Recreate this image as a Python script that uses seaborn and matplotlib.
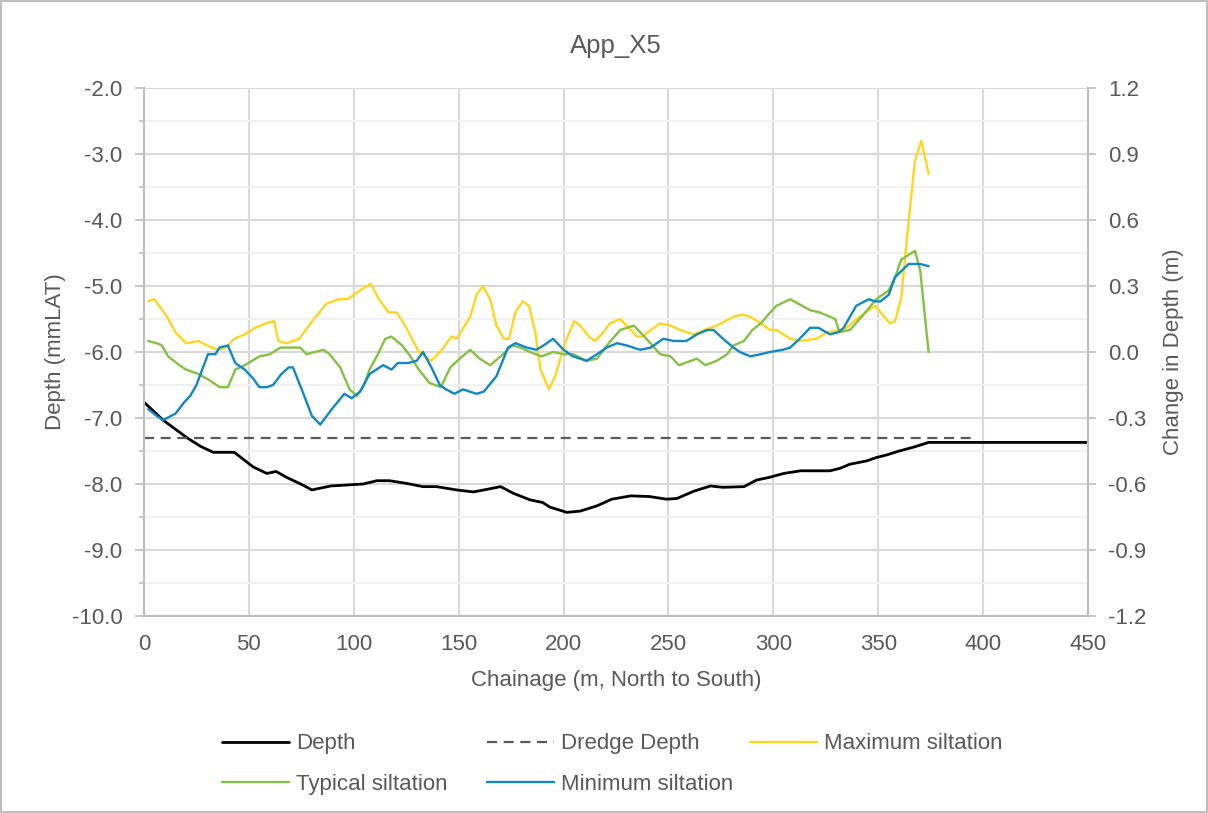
import numpy as np
import matplotlib
matplotlib.use("Agg")
import matplotlib.pyplot as plt
import seaborn as sns
from matplotlib.ticker import MultipleLocator, FormatStrFormatter

# Depth profile (mmLAT)
depth_x = [0, 9, 21, 27, 33, 43, 52, 58.5, 63, 68, 76, 80, 89, 104.5, 111, 117, 125, 133,
           139.5, 149, 157, 162, 170, 176, 184, 190, 193.5, 201.5, 208, 216, 223, 232, 241,
           249, 254, 262, 270, 276, 286, 292, 298, 305, 313, 327, 332, 336.5, 344.5, 349,
           354, 360, 367, 374, 450]
depth_y = [-6.76, -7.03, -7.31, -7.43, -7.52, -7.52, -7.74, -7.84, -7.81, -7.90, -8.02, -8.09,
           -8.03, -8.00, -7.95, -7.95, -7.99, -8.04, -8.04, -8.09, -8.12, -8.09, -8.04, -8.14,
           -8.24, -8.28, -8.35, -8.43, -8.41, -8.33, -8.23, -8.18, -8.19, -8.23, -8.22, -8.11,
           -8.03, -8.05, -8.04, -7.94, -7.90, -7.84, -7.80, -7.80, -7.76, -7.70, -7.65, -7.60,
           -7.56, -7.50, -7.44, -7.37, -7.37]

dredge_x = [0, 397]
dredge_y = [-7.3, -7.3]

# change in depth (m), right axis
max_x = [2, 5, 11, 15, 20, 26, 30, 35, 39, 43, 48, 53, 58, 62, 64, 68, 74, 81, 87, 93, 97, 103,
         108, 112, 116.5, 120.5, 125, 131, 137, 142, 146.5, 149, 155.5, 158.5, 161.5, 165, 168,
         171.5, 174, 177, 180.5, 183.5, 186.5, 189, 193, 196, 199, 201.5, 205, 208, 212, 215,
         219, 222, 227, 230, 235, 237.5, 241.5, 246, 251, 255.5, 262, 267, 273, 281, 285, 289,
         294, 298.5, 301.5, 308, 312.5, 320.5, 325.5, 333.5, 341, 348.5, 355.5, 358, 361,
         364.5, 367.5, 370.5, 374]
max_y = [0.23, 0.24, 0.16, 0.09, 0.04, 0.05, 0.03, 0.01, 0.02, 0.06, 0.08, 0.11, 0.13, 0.14,
         0.05, 0.04, 0.06, 0.15, 0.22, 0.24, 0.24, 0.28, 0.31, 0.24, 0.18, 0.18, 0.11, 0.00,
         -0.04, 0.01, 0.07, 0.06, 0.16, 0.26, 0.30, 0.24, 0.12, 0.06, 0.06, 0.18, 0.23, 0.21,
         0.09, -0.08, -0.17, -0.11, -0.01, 0.06, 0.14, 0.12, 0.07, 0.05, 0.09, 0.13, 0.15,
         0.12, 0.07, 0.07, 0.10, 0.13, 0.12, 0.10, 0.08, 0.10, 0.12, 0.16, 0.17, 0.16, 0.13,
         0.10, 0.10, 0.06, 0.05, 0.06, 0.09, 0.10, 0.16, 0.21, 0.13, 0.14, 0.25, 0.60, 0.87,
         0.96, 0.81]

typ_x = [2, 6, 8.5, 11.5, 15.5, 20, 26, 31.5, 36, 40, 43.5, 48, 55, 60, 65, 71, 74.5, 77.5,
         85.5, 88.5, 93.5, 98, 101.5, 104.5, 107.5, 111.5, 115, 118, 123, 127, 131, 136, 141.5,
         146, 150.5, 155.5, 160, 165, 170, 175.5, 179.5, 184, 189.5, 195, 200, 204.5, 211, 216,
         221.5, 227, 233.5, 239.5, 246, 251, 255, 263.5, 267.5, 273, 278, 281, 286, 290, 294,
         298.5, 301.5, 308, 317.5, 322, 329.5, 331.5, 336.5, 343, 349, 355, 358, 361, 367.5,
         370, 374]
typ_y = [0.05, 0.04, 0.03, -0.02, -0.05, -0.08, -0.10, -0.13, -0.16, -0.16, -0.08, -0.06,
         -0.02, -0.01, 0.02, 0.02, 0.02, -0.01, 0.01, -0.01, -0.07, -0.17, -0.20, -0.16, -0.08,
         -0.01, 0.06, 0.07, 0.03, -0.02, -0.08, -0.14, -0.16, -0.07, -0.03, 0.01, -0.03, -0.06,
         -0.02, 0.03, 0.02, 0.00, -0.02, 0.00, -0.01, -0.01, -0.04, -0.03, 0.04, 0.10, 0.12,
         0.06, -0.01, -0.02, -0.06, -0.03, -0.06, -0.04, -0.01, 0.03, 0.05, 0.10, 0.13, 0.18,
         0.21, 0.24, 0.19, 0.18, 0.15, 0.09, 0.10, 0.17, 0.24, 0.28, 0.34, 0.42, 0.46, 0.37,
         0.00]

min_x = [2, 6, 9, 15, 19, 22, 25, 30.5, 34, 36, 40, 43.5, 48, 52, 55, 58.5, 61.5, 65.5, 69, 71,
         76, 80, 84, 89.5, 95.5, 99, 103, 107.5, 114, 118, 121, 126, 130, 133, 137, 141, 144,
         148, 152, 158.5, 162, 168, 173.5, 177, 182.5, 187, 190.5, 195, 200, 204.5, 211, 216,
         220.5, 225.5, 230, 236.5, 241.5, 247.5, 252.5, 258.5, 263.5, 268.5, 271.5, 276, 281,
         284, 289, 294, 298.5, 304.5, 308, 312.5, 317.5, 321.5, 327, 331, 333.5, 339.5, 345.5,
         348.5, 351, 355, 358, 364.5, 370, 374]
min_y = [-0.26, -0.29, -0.31, -0.28, -0.23, -0.20, -0.15, -0.01, -0.01, 0.02, 0.03, -0.05,
         -0.08, -0.12, -0.16, -0.16, -0.15, -0.10, -0.07, -0.07, -0.19, -0.29, -0.33, -0.26,
         -0.19, -0.21, -0.18, -0.10, -0.06, -0.08, -0.05, -0.05, -0.04, 0.00, -0.07, -0.15,
         -0.17, -0.19, -0.17, -0.19, -0.18, -0.11, 0.02, 0.04, 0.02, 0.01, 0.03, 0.06, 0.01,
         -0.02, -0.04, -0.01, 0.02, 0.04, 0.03, 0.01, 0.02, 0.06, 0.05, 0.05, 0.08, 0.10, 0.10,
         0.06, 0.02, 0.00, -0.02, -0.01, 0.00, 0.01, 0.02, 0.06, 0.11, 0.11, 0.08, 0.09, 0.11,
         0.21, 0.24, 0.23, 0.23, 0.26, 0.34, 0.40, 0.40, 0.39]

sns.set_style("white")
plt.rcParams['font.family'] = ['Liberation Sans', 'DejaVu Sans']
txt = "#595959"
grid_c = "#D9D9D9"
fs = 16

fig = plt.figure(figsize=(12.08, 8.13), dpi=100)
ax = fig.add_axes([0.1192, 0.2423, 0.7815, 0.6495])
ax2 = ax.twinx()

sns.lineplot(x=depth_x, y=depth_y, ax=ax, color="black", linewidth=2.0, label="Depth",
             estimator=None, sort=False, legend=False)
sns.lineplot(x=dredge_x, y=dredge_y, ax=ax, color="#595959", linewidth=1.6, label="Dredge Depth",
             estimator=None, legend=False)
ax.lines[-1].set_dashes((4.5, 3))

sns.lineplot(x=max_x, y=max_y, ax=ax2, color="#FFD61F", linewidth=1.7, label="Maximum siltation",
             estimator=None, sort=False, legend=False)
sns.lineplot(x=typ_x, y=typ_y, ax=ax2, color="#84C142", linewidth=1.7, label="Typical siltation",
             estimator=None, sort=False, legend=False)
sns.lineplot(x=min_x, y=min_y, ax=ax2, color="#1188C6", linewidth=1.7, label="Minimum siltation",
             estimator=None, sort=False, legend=False)

ax.set_xlim(0, 450)
ax.set_ylim(-10, -2)
ax2.set_ylim(-1.2, 1.2)
ax.xaxis.set_major_locator(MultipleLocator(50))
ax.yaxis.set_major_locator(MultipleLocator(1))
ax.yaxis.set_minor_locator(MultipleLocator(0.5))
ax.yaxis.set_major_formatter(FormatStrFormatter("%.1f"))
ax2.yaxis.set_major_locator(MultipleLocator(0.3))
ax2.yaxis.set_major_formatter(FormatStrFormatter("%.1f"))

ax.grid(True, which="major", color=grid_c, linewidth=1.5)
ax.grid(True, which="minor", axis="y", color="#F0F0F0", linewidth=1.5)
ax.set_axisbelow(True)

for a in (ax, ax2):
    for s in a.spines.values():
        s.set_color("#BFBFBF")
        s.set_linewidth(1.5)
    a.spines["top"].set_visible(False)

ax.tick_params(axis="y", which="major", length=6.5, width=1.2, color="#BFBFBF", labelsize=fs,
               labelcolor=txt, pad=9)
ax.tick_params(axis="y", which="minor", length=3.5, width=1.2, color="#BFBFBF", left=True)
ax.tick_params(axis="x", length=0, labelsize=fs, labelcolor=txt, pad=13)
ax2.tick_params(axis="y", which="major", length=5.5, width=1.2, color="#BFBFBF", labelsize=fs,
                labelcolor=txt, pad=9)

ax.set_xlabel("Chainage (m, North to South)", fontsize=fs, color=txt, labelpad=11)
ax.set_ylabel("Depth (mmLAT)", fontsize=fs, color=txt, labelpad=4)
ax2.set_ylabel("Change in Depth (m)", fontsize=fs, color=txt, labelpad=12)
ax.set_title("App_X5", fontsize=18.5, color=txt, pad=25)

h1, l1 = ax.get_legend_handles_labels()
h2, l2 = ax2.get_legend_handles_labels()
hd = dict(zip(l1 + l2, h1 + h2))
columns = [["Depth", "Typical siltation"], ["Dredge Depth", "Minimum siltation"],
           ["Maximum siltation"]]
col_x = [222 / 1208, 487 / 1208, 750 / 1208]
for names, cx in zip(columns, col_x):
    fig.legend([hd[k] for k in names], names, loc="upper left", bbox_to_anchor=(cx, 0.0978),
               frameon=False, fontsize=fs, handlelength=3.0, handletextpad=0.35,
               labelspacing=0.87, borderpad=0, borderaxespad=0, labelcolor=txt)

fig.add_artist(plt.Rectangle((0.001, 0.001), 0.998, 0.998, transform=fig.transFigure,
                             fill=False, edgecolor="#BFBFBF", linewidth=1.5))

fig.savefig("out.png", dpi=100)
